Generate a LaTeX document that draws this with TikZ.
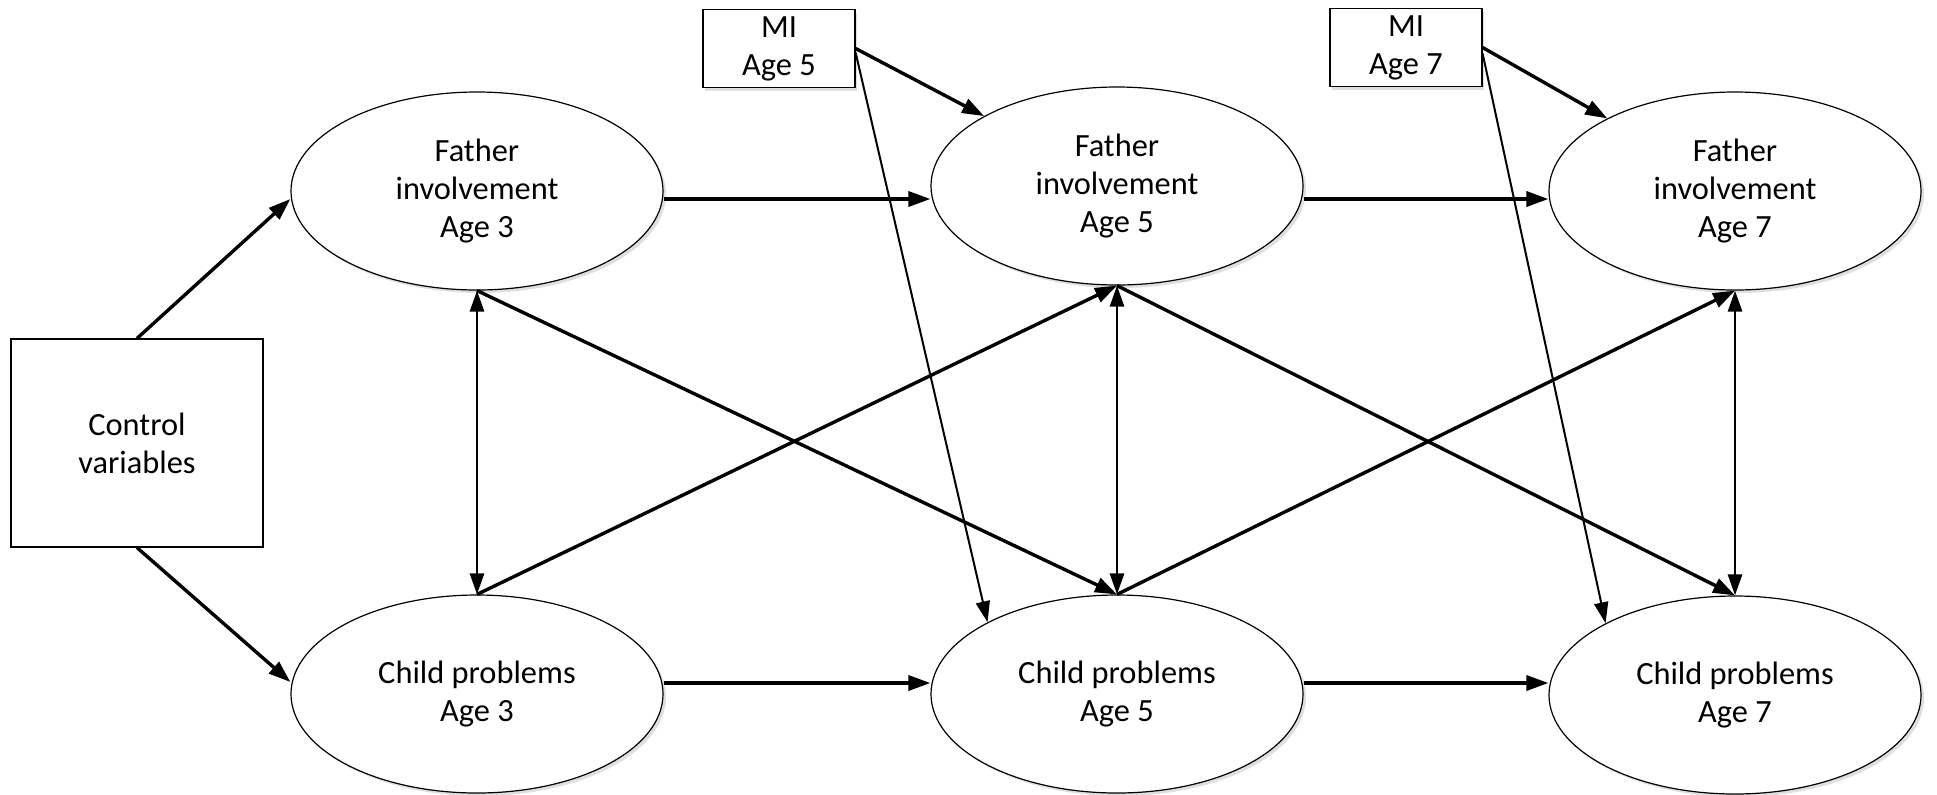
\documentclass[tikz,border=0pt]{standalone}
\usepackage{fontspec}
\setmainfont{Carlito}
\usetikzlibrary{shapes.geometric,arrows.meta,shadows}
\begin{document}
\begin{tikzpicture}[x=0.5pt,y=-0.5pt,
  txt/.style={align=center,font=\fontsize{16.2}{19}\selectfont},
  latent/.style={txt,ellipse,draw,line width=0.6pt,fill=white,minimum width=186pt,minimum height=99pt,inner sep=0pt,
    drop shadow={opacity=0.25,shadow xshift=1.5pt,shadow yshift=-1.5pt}},
  obsbox/.style={txt,rectangle,draw,line width=0.6pt,fill=white,inner sep=0pt},
  mibox/.style={obsbox,minimum width=76pt,minimum height=39pt,
    drop shadow={opacity=0.25,shadow xshift=0.8pt,shadow yshift=-1.5pt}},
  reg/.style={line width=1.7pt,-{Triangle[length=11pt,width=7.5pt]}},
  cov/.style={line width=1.4pt,{Triangle[length=10.5pt,width=7pt]}-{Triangle[length=10.5pt,width=7pt]}},
  thinreg/.style={line width=1.0pt,-{Triangle[length=10.5pt,width=7pt]}}
]
\useasboundingbox (0,0) rectangle (1937,794);
\node[obsbox,minimum width=126pt,minimum height=104pt] (ctrl) at (137,443) {Control\\variables};
\node[mibox] (mi5) at (779,48.5) {MI\\Age 5};
\node[mibox] (mi7) at (1406,47.5) {MI\\Age 7};
\node[latent] (f3) at (477,191) {Father\\involvement\\Age 3};
\node[latent] (f5) at (1117,186) {Father\\involvement\\Age 5};
\node[latent] (f7) at (1735,191) {Father\\involvement\\Age 7};
\node[latent] (c3) at (477,694) {Child problems\\Age 3};
\node[latent] (c5) at (1117,694) {Child problems\\Age 5};
\node[latent] (c7) at (1735,695) {Child problems\\Age 7};
% control
\draw[reg] (ctrl.north) -- ([yshift=-4pt]f3.west);
\draw[reg] (ctrl.south) -- ([yshift=6pt]c3.west);
% autoregressive
\draw[reg] ([yshift=-4pt]f3.east) -- ([yshift=-4pt]f3.east -| f5.west);
\draw[reg] ([yshift=-4pt]f7.west -| f5.east) -- ([yshift=-4pt]f7.west);
\draw[reg] ([yshift=5.5pt]c3.east) -- ([yshift=5.5pt]c5.west);
\draw[reg] ([yshift=5.5pt]c5.east) -- ([yshift=5.5pt]c5.east -| c7.west);
% covariances
\draw[cov] (f3.south) -- (c3.north);
\draw[cov] (f5.south) -- (c5.north);
\draw[cov] (f7.south) -- (c7.north);
% cross-lagged
\draw[reg] (f3.south) -- (c5.north);
\draw[reg] (c3.north) -- (f5.south);
\draw[reg] (f5.south) -- (c7.north);
\draw[reg] (c5.north) -- (f7.south);
% MI
\draw[reg] (mi5.east) -- (f5);
\draw[reg] (mi7.east) -- (f7);
\draw[thinreg] ([yshift=-2pt]mi5.east) -- (c5.151);
\draw[thinreg] ([yshift=-3pt]mi7.east) -- (c7.151);
\end{tikzpicture}
\end{document}
